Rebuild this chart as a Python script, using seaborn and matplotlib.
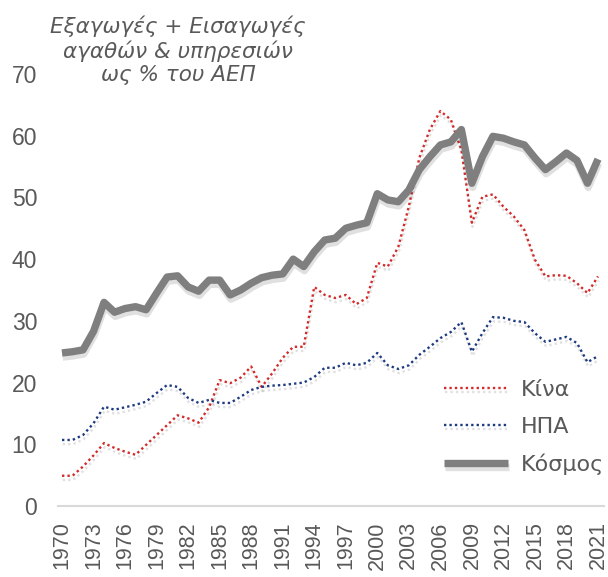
import numpy as np
import pandas as pd
import matplotlib
matplotlib.use("Agg")
import matplotlib.pyplot as plt
import matplotlib.patheffects as pe
import seaborn as sns

years = list(range(1970, 2022))

china = [4.9, 4.9, 6.4, 8.2, 10.2, 9.4, 8.8, 8.3, 9.9, 11.5,
         13.1, 14.7, 14.2, 13.5, 16.0, 20.4, 19.9, 20.8, 22.6, 19.3,
         21.5, 24.0, 25.8, 25.8, 35.5, 34.2, 33.7, 34.2, 32.7, 33.7,
         39.4, 38.8, 42.0, 48.5, 56.4, 61.0, 64.0, 62.6, 57.7, 45.9,
         50.1, 50.5, 48.5, 46.9, 44.7, 39.9, 37.2, 37.4, 37.3, 36.1,
         34.5, 37.2]

usa = [10.7, 10.7, 11.5, 13.4, 16.1, 15.6, 16.0, 16.4, 16.9, 18.3,
       19.6, 19.3, 17.5, 16.7, 17.2, 16.7, 16.7, 17.7, 18.8, 19.3,
       19.5, 19.6, 19.8, 20.0, 20.9, 22.4, 22.4, 23.2, 22.8, 23.2,
       24.8, 22.8, 22.2, 22.8, 24.5, 25.8, 27.2, 28.2, 29.8, 25.0,
       28.0, 30.6, 30.5, 30.0, 29.8, 28.0, 26.6, 27.0, 27.4, 26.4,
       23.3, 24.3]

world = [24.8, 25.0, 25.3, 28.3, 33.0, 31.4, 32.0, 32.3, 31.8, 34.5,
         37.1, 37.3, 35.5, 34.8, 36.6, 36.6, 34.2, 35.0, 36.1, 37.0,
         37.4, 37.6, 40.0, 38.8, 41.2, 43.1, 43.4, 45.0, 45.5, 45.9,
         50.6, 49.6, 49.3, 51.2, 54.5, 56.6, 58.5, 59.0, 61.0, 52.3,
         56.6, 59.9, 59.6, 59.0, 58.5, 56.4, 54.5, 55.8, 57.2, 56.0,
         52.3, 56.2]

labels = ["Κίνα", "ΗΠΑ", "Κόσμος"]
title_text = "Εξαγωγές + Εισαγωγές\nαγαθών & υπηρεσιών\nως % του ΑΕΠ"
xticks = list(range(1970, 2022, 3))
yticks = [0, 10, 20, 30, 40, 50, 60, 70]

sns.set_theme(style="white")
plt.rcParams["font.family"] = ["DejaVu Sans"]

fig = plt.figure(figsize=(6.08, 5.77), dpi=100)
ax = fig.add_axes([58 / 608, 71 / 577, 546 / 608, 432 / 577])

df = pd.DataFrame({"year": years * 3,
                   "value": china + usa + world,
                   "series": [labels[0]] * len(years) + [labels[1]] * len(years) + [labels[2]] * len(years)})

styles = {
    labels[0]: dict(color="#d42a2a", lw=1.7, ls=(0, (1, 1.3))),
    labels[1]: dict(color="#1f3b80", lw=1.7, ls=(0, (1, 1.3))),
    labels[2]: dict(color="#7f7f7f", lw=5.3, ls="-"),
}

for name in labels:
    sub = df[df["series"] == name]
    st = styles[name]
    sns.lineplot(data=sub, x="year", y="value", ax=ax, color=st["color"],
                 linewidth=st["lw"], linestyle=st["ls"], label=name,
                 solid_joinstyle="round", solid_capstyle="butt")

for line in ax.get_lines():
    line.set_path_effects([pe.SimpleLineShadow(offset=(0.5, -3), shadow_color="black", alpha=0.12),
                           pe.Normal()])

ax.set_xlim(1970 - 4 / 10.51, 2021 + 6 / 10.51)
ax.set_ylim(0, 70)
ax.set_xticks(xticks)
ax.set_xticklabels([str(x) for x in xticks], rotation=90, fontsize=15.5,
                   color="#595959", family=["Liberation Sans"])
ax.set_yticks(yticks)
ax.set_yticklabels([str(y) for y in yticks], fontsize=16.5, color="#595959",
                   family=["Liberation Sans"])
ax.tick_params(axis="x", length=0, pad=11)
ax.tick_params(axis="y", length=0, pad=15)
ax.set_xlabel("")
ax.set_ylabel("")
for s in ["top", "right", "left"]:
    ax.spines[s].set_visible(False)
ax.spines["bottom"].set_color("#d9d9d9")
ax.spines["bottom"].set_linewidth(1.5)
ax.grid(False)

leg = ax.legend(loc="upper left", bbox_to_anchor=(424 / 608, 1 - 360 / 577),
                bbox_transform=fig.transFigure, frameon=False, fontsize=16,
                handlelength=2.9, handletextpad=0.55, labelspacing=0.75)
for t in leg.get_texts():
    t.set_color("#595959")

fig.text(178 / 608, 1 - 50 / 577, title_text, ha="center", va="center",
         fontsize=15.5, style="italic", color="#595959", linespacing=1.2)

fig.savefig("out.png", dpi=100, facecolor="white")
